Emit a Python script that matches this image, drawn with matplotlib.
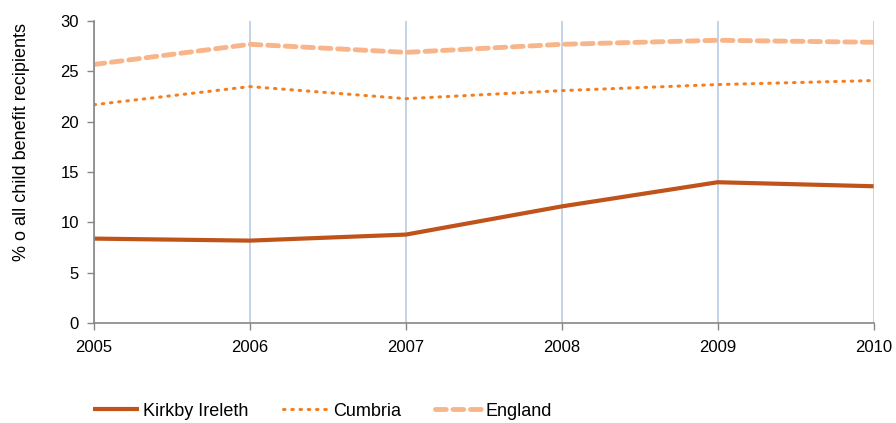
import matplotlib
matplotlib.use('Agg')
import matplotlib.pyplot as plt

plt.rcParams['font.family'] = ['Liberation Sans', 'DejaVu Sans']

years = [2005, 2006, 2007, 2008, 2009, 2010]
kirkby = [8.4, 8.2, 8.8, 11.6, 14.0, 13.6]
cumbria = [21.7, 23.5, 22.3, 23.1, 23.7, 24.1]
england = [25.7, 27.7, 26.9, 27.7, 28.1, 27.9]

fig = plt.figure(figsize=(8.96, 4.23), dpi=100)
ax = fig.add_axes([0.105, 0.236, 0.87, 0.714])

ax.plot(years, kirkby, color='#C0531A', linewidth=3, label='Kirkby Ireleth',
        solid_capstyle='butt')
ax.plot(years, cumbria, color='#F47F20', linewidth=2.2, linestyle=(0, (0.5, 2.2)),
        dash_capstyle='round', label='Cumbria')
ax.plot(years, england, color='#F9B58A', linewidth=3.5, linestyle=(0, (2.2, 1.4)),
        dash_capstyle='round', label='England')

ax.set_xlim(2005, 2010)
ax.set_ylim(0, 30)
ax.set_xticks(years)
ax.set_yticks(range(0, 31, 5))
ax.grid(axis='x', color='#B9CDE5', linewidth=1.2)
ax.set_axisbelow(True)

for side in ['top', 'right']:
    ax.spines[side].set_visible(False)
for side in ['left', 'bottom']:
    ax.spines[side].set_color('#868686')
    ax.spines[side].set_linewidth(1.2)
ax.tick_params(axis='both', colors='#868686', labelcolor='black', labelsize=12,
               direction='out', length=5, width=1)
ax.tick_params(axis='x', pad=7)
ax.tick_params(axis='y', pad=6)

ax.set_ylabel('% o all child benefit recipients', fontsize=13)
ax.yaxis.set_label_coords(-0.082, 0.60)

fig.legend(loc='center', bbox_to_anchor=(0.36, 0.028), ncol=3, frameon=False,
           fontsize=13, handlelength=2.55, columnspacing=1.9, handletextpad=0.22)

fig.savefig('out.png', dpi=100)
